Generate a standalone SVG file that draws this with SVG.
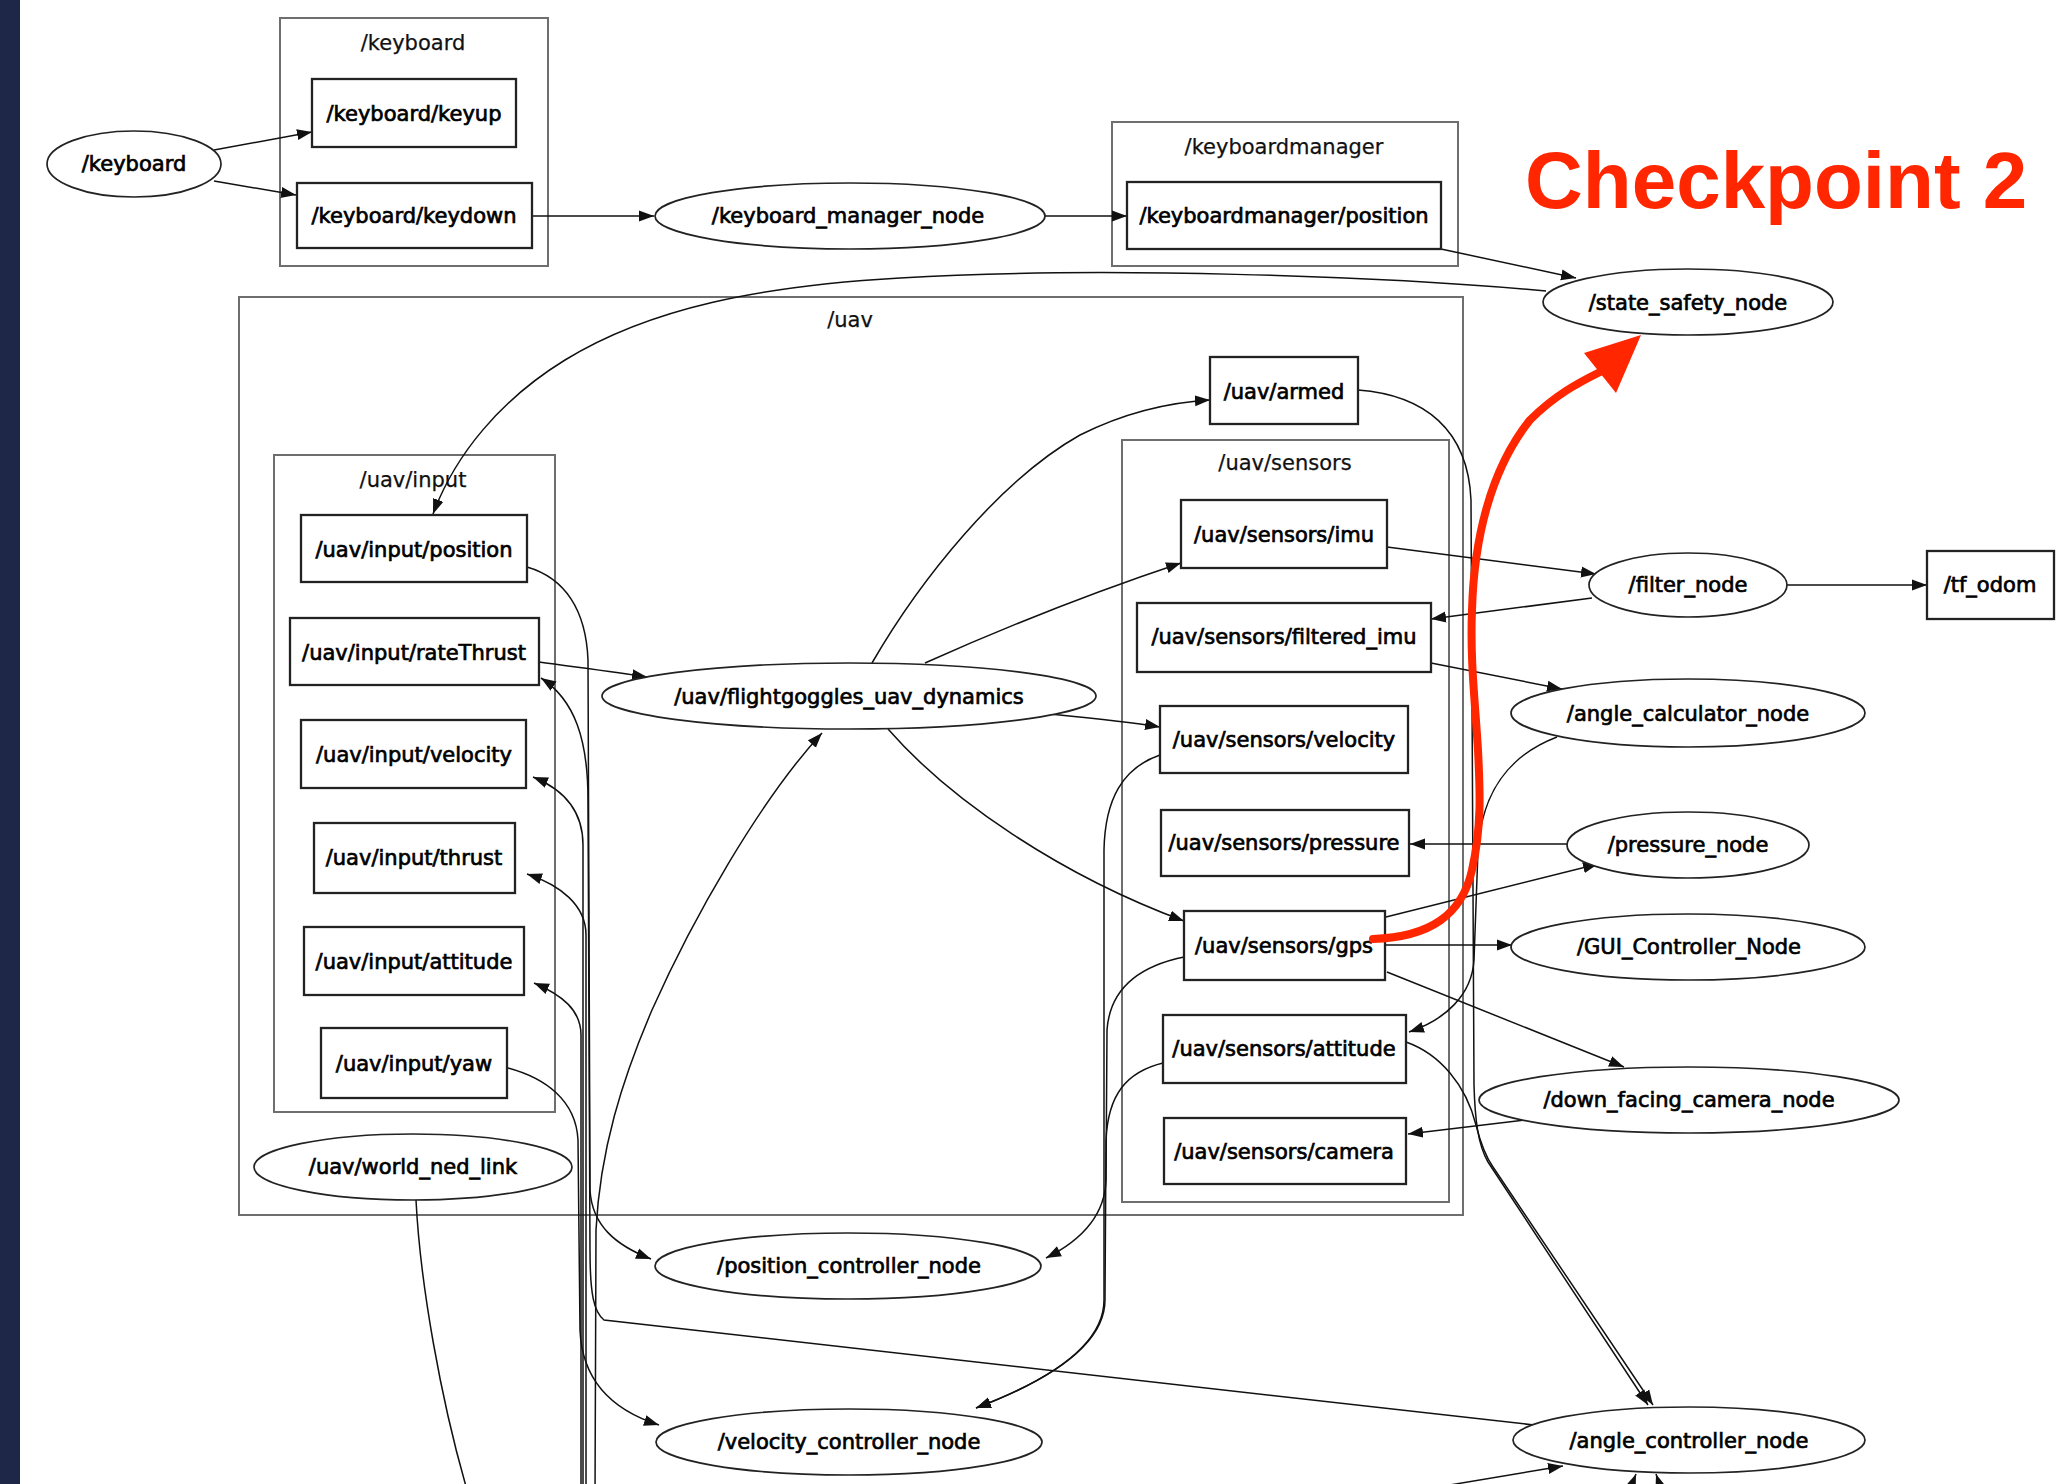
<svg xmlns="http://www.w3.org/2000/svg" width="2056" height="1484" viewBox="0 0 2056 1484">
  <style>
    .cl { fill: none; stroke: #6e6e6e; stroke-width: 2; }
    .bx { fill: #fff; stroke: #222; stroke-width: 2.3; }
    .el { fill: #fff; stroke: #222; stroke-width: 1.7; }
    .lb { font-family: "DejaVu Sans", "Noto Sans", sans-serif; font-size: 21px; text-anchor: middle; fill: #000; stroke: #000; stroke-width: 0.7; }
    .cll { font-family: "DejaVu Sans", "Noto Sans", sans-serif; font-size: 21px; text-anchor: middle; fill: #111; stroke: #111; stroke-width: 0.25; }
    .e { fill: none; stroke: #111; stroke-width: 1.5; marker-end: url(#ah); }
    .en { fill: none; stroke: #111; stroke-width: 1.5; }
    .hl { fill: none; stroke: #ff2600; stroke-width: 8; stroke-linecap: round; }
  </style>
  <defs>
    <marker id="ah" markerUnits="userSpaceOnUse" markerWidth="16" markerHeight="12" refX="15" refY="5.5" orient="auto" viewBox="0 0 16 11">
      <path d="M0,0 L15,5.5 L0,11 z" fill="#111"/>
    </marker>
  </defs>

  <rect x="0" y="0" width="2056" height="1484" fill="#fff"/>
  <rect x="0" y="0" width="20" height="1484" fill="#1f2749"/>

  <!-- clusters -->
  <g id="cluster_keyboard">
    <rect class="cl" x="280" y="18" width="268" height="248"/>
    <text class="cll" x="413" y="50">/keyboard</text>
  </g>
  <g id="cluster_keyboardmanager">
    <rect class="cl" x="1112" y="122" width="346" height="144"/>
    <text class="cll" x="1284" y="154">/keyboardmanager</text>
  </g>
  <g id="cluster_uav">
    <rect class="cl" x="239" y="297" width="1224" height="918"/>
    <text class="cll" x="850" y="327">/uav</text>
  </g>
  <g id="cluster_uav_input">
    <rect class="cl" x="274" y="455" width="281" height="657"/>
    <text class="cll" x="413" y="487">/uav/input</text>
  </g>
  <g id="cluster_uav_sensors">
    <rect class="cl" x="1122" y="440" width="327" height="762"/>
    <text class="cll" x="1285" y="470">/uav/sensors</text>
  </g>

  <!-- connectors -->
  <g id="edges">
    <path class="e" d="M214,150 L312,132"/>
    <path class="e" d="M214,181 L296,195"/>
    <path class="e" d="M532,216 L654,216"/>
    <path class="e" d="M1045,216 L1127,216"/>
    <path class="e" d="M1441,249 L1576,278"/>
    <path class="e" d="M1546,291 C1380,276 1100,266 900,278 C760,286 650,308 565,360 C500,400 455,455 433,514"/>
    <path class="e" d="M872,663 C920,580 1000,480 1080,435 C1130,410 1175,402 1210,400"/>
    <path class="e" d="M925,663 C1010,625 1100,590 1181,563"/>
    <path class="e" d="M1050,714 C1090,718 1130,722 1160,727"/>
    <path class="e" d="M888,729 C950,800 1060,875 1184,921"/>
    <path class="e" d="M539,662 C575,667 615,672 647,677"/>
    <path class="e" d="M1387,547 L1596,574"/>
    <path class="e" d="M1592,598 L1431,619"/>
    <path class="e" d="M1787,585 L1927,585"/>
    <path class="e" d="M1431,663 L1562,689"/>
    <path class="e" d="M1567,844 L1410,844"/>
    <path class="e" d="M1386,917 L1598,864"/>
    <path class="e" d="M1385,945 L1512,945"/>
    <path class="e" d="M1387,972 L1624,1067"/>
    <path class="e" d="M1525,1120 L1408,1134"/>
    <path class="e" d="M1557,737 C1510,755 1482,790 1478,850 L1474,960 C1472,995 1445,1020 1409,1032"/>
    <path class="e" d="M1358,390 C1425,395 1468,430 1471,500 L1474,1085 C1475,1120 1478,1145 1488,1162 L1648,1405"/>
    <path class="e" d="M1406,1042 C1440,1054 1466,1085 1476,1125 C1481,1145 1486,1157 1493,1167 L1653,1405"/>
    <path class="e" d="M1160,755 C1122,768 1105,800 1104,850 L1104,1300 C1104,1345 1050,1380 976,1408"/>
    <path class="e" d="M1163,1063 C1126,1072 1108,1095 1106,1140 L1105,1300 C1105,1345 1050,1380 976,1408"/>
    <path class="e" d="M1184,957 C1140,966 1110,988 1107,1030 L1106,1180 C1105,1215 1082,1240 1046,1258"/>
    <path class="e" d="M527,567 C565,578 586,610 588,660 L590,1190 C592,1225 615,1245 651,1259"/>
    <path class="e" d="M1534,1425 L604,1320 C594,1312 590,1295 590,1250 L588,800 C588,740 575,700 541,678"/>
    <path class="e" d="M583,1500 L583,845 C583,812 565,790 533,777"/>
    <path class="e" d="M586,1500 L586,935 C586,905 560,885 527,874"/>
    <path class="e" d="M581,1500 L581,1035 C581,1010 562,995 534,983"/>
    <path class="e" d="M508,1068 C545,1078 576,1100 578,1140 L580,1330 C582,1380 612,1410 659,1425"/>
    <path class="e" d="M595,1500 L596,1230 C600,1150 622,1080 652,1010 C692,920 760,800 822,733"/>
    <path class="en" d="M416,1200 C420,1280 440,1400 470,1500"/>
    <path class="e" d="M1622,1510 L1636,1474"/>
    <path class="e" d="M1668,1510 L1656,1474"/>
    <path class="e" d="M1420,1490 L1563,1466"/>
  </g>

  <!-- nodes -->
  <g id="n_keyboard"><ellipse class="el" cx="134" cy="164" rx="87" ry="33"/><text class="lb" x="134" y="171">/keyboard</text></g>
  <g id="n_keyup"><rect class="bx" x="312" y="79" width="204" height="68"/><text class="lb" x="414" y="121">/keyboard/keyup</text></g>
  <g id="n_keydown"><rect class="bx" x="297" y="183" width="235" height="65"/><text class="lb" x="414" y="223">/keyboard/keydown</text></g>
  <g id="n_keyboard_manager_node"><ellipse class="el" cx="850" cy="216" rx="195" ry="33"/><text class="lb" x="848" y="223">/keyboard_manager_node</text></g>
  <g id="n_km_position"><rect class="bx" x="1127" y="182" width="314" height="67"/><text class="lb" x="1284" y="223">/keyboardmanager/position</text></g>
  <g id="n_state_safety"><ellipse class="el" cx="1688" cy="302" rx="145" ry="33"/><text class="lb" x="1688" y="310">/state_safety_node</text></g>

  <g id="n_in_position"><rect class="bx" x="301" y="515" width="226" height="67"/><text class="lb" x="414" y="557">/uav/input/position</text></g>
  <g id="n_in_ratethrust"><rect class="bx" x="290" y="618" width="249" height="67"/><text class="lb" x="414" y="660">/uav/input/rateThrust</text></g>
  <g id="n_in_velocity"><rect class="bx" x="301" y="720" width="225" height="68"/><text class="lb" x="414" y="762">/uav/input/velocity</text></g>
  <g id="n_in_thrust"><rect class="bx" x="314" y="823" width="201" height="70"/><text class="lb" x="414" y="865">/uav/input/thrust</text></g>
  <g id="n_in_attitude"><rect class="bx" x="304" y="927" width="220" height="68"/><text class="lb" x="414" y="969">/uav/input/attitude</text></g>
  <g id="n_in_yaw"><rect class="bx" x="321" y="1028" width="186" height="70"/><text class="lb" x="414" y="1071">/uav/input/yaw</text></g>
  <g id="n_world_ned_link"><ellipse class="el" cx="413" cy="1167" rx="159" ry="33"/><text class="lb" x="413" y="1174">/uav/world_ned_link</text></g>

  <g id="n_dynamics"><ellipse class="el" cx="849" cy="696" rx="247" ry="33"/><text class="lb" x="849" y="704">/uav/flightgoggles_uav_dynamics</text></g>
  <g id="n_armed"><rect class="bx" x="1210" y="357" width="148" height="67"/><text class="lb" x="1284" y="399">/uav/armed</text></g>

  <g id="n_s_imu"><rect class="bx" x="1181" y="500" width="206" height="68"/><text class="lb" x="1284" y="542">/uav/sensors/imu</text></g>
  <g id="n_s_filtered_imu"><rect class="bx" x="1137" y="603" width="294" height="69"/><text class="lb" x="1284" y="644">/uav/sensors/filtered_imu</text></g>
  <g id="n_s_velocity"><rect class="bx" x="1160" y="706" width="248" height="67"/><text class="lb" x="1284" y="747">/uav/sensors/velocity</text></g>
  <g id="n_s_pressure"><rect class="bx" x="1161" y="810" width="248" height="66"/><text class="lb" x="1284" y="850">/uav/sensors/pressure</text></g>
  <g id="n_s_gps"><rect class="bx" x="1184" y="911" width="201" height="69"/><text class="lb" x="1284" y="953">/uav/sensors/gps</text></g>
  <g id="n_s_attitude"><rect class="bx" x="1163" y="1015" width="243" height="68"/><text class="lb" x="1284" y="1056">/uav/sensors/attitude</text></g>
  <g id="n_s_camera"><rect class="bx" x="1164" y="1118" width="242" height="66"/><text class="lb" x="1284" y="1159">/uav/sensors/camera</text></g>

  <g id="n_filter"><ellipse class="el" cx="1688" cy="585" rx="99" ry="32"/><text class="lb" x="1688" y="592">/filter_node</text></g>
  <g id="n_tf_odom"><rect class="bx" x="1927" y="551" width="127" height="68"/><text class="lb" x="1990" y="592">/tf_odom</text></g>
  <g id="n_angle_calc"><ellipse class="el" cx="1688" cy="713" rx="177" ry="34"/><text class="lb" x="1688" y="721">/angle_calculator_node</text></g>
  <g id="n_pressure_node"><ellipse class="el" cx="1688" cy="845" rx="121" ry="33"/><text class="lb" x="1688" y="852">/pressure_node</text></g>
  <g id="n_gui"><ellipse class="el" cx="1688" cy="947" rx="177" ry="33"/><text class="lb" x="1689" y="954">/GUI_Controller_Node</text></g>
  <g id="n_down_cam"><ellipse class="el" cx="1689" cy="1100" rx="210" ry="33"/><text class="lb" x="1689" y="1107">/down_facing_camera_node</text></g>
  <g id="n_pos_ctrl"><ellipse class="el" cx="848" cy="1266" rx="193" ry="33"/><text class="lb" x="849" y="1273">/position_controller_node</text></g>
  <g id="n_vel_ctrl"><ellipse class="el" cx="849" cy="1442" rx="193" ry="33"/><text class="lb" x="849" y="1449">/velocity_controller_node</text></g>
  <g id="n_angle_ctrl"><ellipse class="el" cx="1689" cy="1440" rx="176" ry="33"/><text class="lb" x="1689" y="1448">/angle_controller_node</text></g>

  <!-- highlighted path from gps up to the safety node -->
  <g id="highlight">
    <path class="hl" d="M1373,939 C1430,937 1462,915 1472,870 C1482,825 1480,790 1478,750 C1475,700 1470,660 1472,610 C1474,540 1490,470 1530,420 C1555,395 1578,383 1600,372"/>
    <polygon points="1641,335 1584,353 1616,393" fill="#ff2600"/>
    <text x="1525" y="208" font-family="Liberation Sans, Arial, sans-serif" font-weight="bold" font-size="80" fill="#ff2600">Checkpoint 2</text>
  </g>
</svg>
